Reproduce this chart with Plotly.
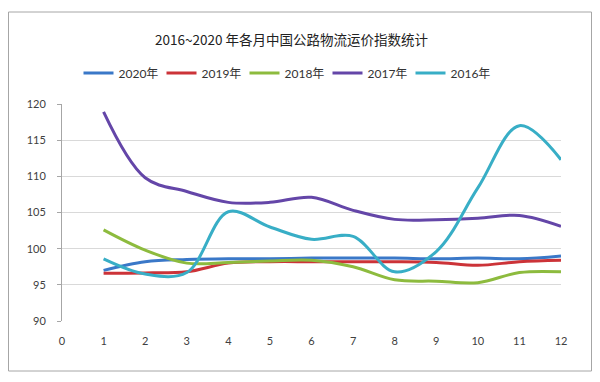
import plotly.graph_objects as go

months = [1, 2, 3, 4, 5, 6, 7, 8, 9, 10, 11, 12]
series_names = ["2020年", "2019年", "2018年", "2017年", "2016年"]
v2020 = [97.0, 98.2, 98.5, 98.6, 98.6, 98.7, 98.7, 98.7, 98.6, 98.7, 98.6, 99.0]
v2019 = [96.6, 96.65, 96.8, 98.0, 98.2, 98.2, 98.2, 98.2, 98.1, 97.7, 98.2, 98.4]
v2018 = [102.6, 99.8, 98.0, 98.1, 98.3, 98.4, 97.5, 95.7, 95.5, 95.3, 96.7, 96.8]
v2017 = [118.9, 109.8, 107.9, 106.4, 106.4, 107.1, 105.3, 104.05, 104.0, 104.2, 104.6, 103.1]
v2016 = [98.6, 96.5, 96.7, 105.1, 103.0, 101.3, 101.7, 96.8, 99.6, 108.4, 117.0, 112.3]
colors = ["#3a78c8", "#cc3338", "#8dbb3e", "#6446a8", "#38aec6"]
x_ticks = list(range(0, 13))
y_ticks = [90, 95, 100, 105, 110, 115, 120]
title_text = "2016~2020 年各月中国公路物流运价指数统计"

fig = go.Figure()
for name, vals, col in zip(series_names, [v2020, v2019, v2018, v2017, v2016], colors):
    fig.add_trace(go.Scatter(
        x=months, y=vals, name=name, mode="lines",
        line=dict(color=col, width=3, shape="spline", smoothing=1.0),
    ))

# page body has an 8px margin; work in window pixels and shift
OFF = 8
W, H = 600 - OFF, 382 - OFF
L, T = 62 - OFF, 104 - OFF
pw, ph = 499, 217
R, B = W - L - pw, H - T - ph

def px_x(p):
    return (p - OFF - L) / pw

def px_y(p):
    return (H - B - (p - OFF)) / ph

fig.update_layout(
    width=W, height=H,
    margin=dict(l=L, r=R, t=T, b=B),
    paper_bgcolor="white", plot_bgcolor="white",
    font=dict(family="Lato, 'Noto Sans CJK SC', sans-serif", color="#404040", size=11),
    title=dict(text=title_text, x=(291.5 - OFF) / W, xanchor="center", xref="container",
               y=1 - (40 - OFF) / H, yanchor="middle", yref="container",
               font=dict(family="'Noto Sans CJK SC', sans-serif", size=13.5, color="#222222")),
    showlegend=True,
    legend=dict(orientation="h", x=px_x(286), xanchor="center", y=px_y(73), yanchor="middle",
                font=dict(family="Lato, 'Noto Sans CJK SC', sans-serif", size=12, color="#333333"),
                itemwidth=30, entrywidth=38, bgcolor="rgba(0,0,0,0)"),
    xaxis=dict(range=[0, 12], tickmode="array", tickvals=x_ticks,
               showgrid=False, zeroline=False, showline=False, ticks="",
               ticklabelstandoff=12, tickfont=dict(size=11, color="#404040")),
    yaxis=dict(range=[90, 120], tickmode="array", tickvals=y_ticks,
               showgrid=True, gridcolor="#d9d9d9", gridwidth=1, zeroline=False,
               showline=True, linecolor="#a6a6a6", linewidth=1,
               ticks="outside", ticklen=4, tickcolor="#a6a6a6",
               ticklabelstandoff=9, tickfont=dict(size=11, color="#404040")),
    shapes=[dict(type="rect", xref="paper", yref="paper",
                 x0=px_x(8.5), x1=px_x(591.5), y0=px_y(371), y1=px_y(12),
                 line=dict(color="#a6a6a6", width=1), fillcolor="rgba(0,0,0,0)", layer="below")],
)

fig.write_html("out.html")
